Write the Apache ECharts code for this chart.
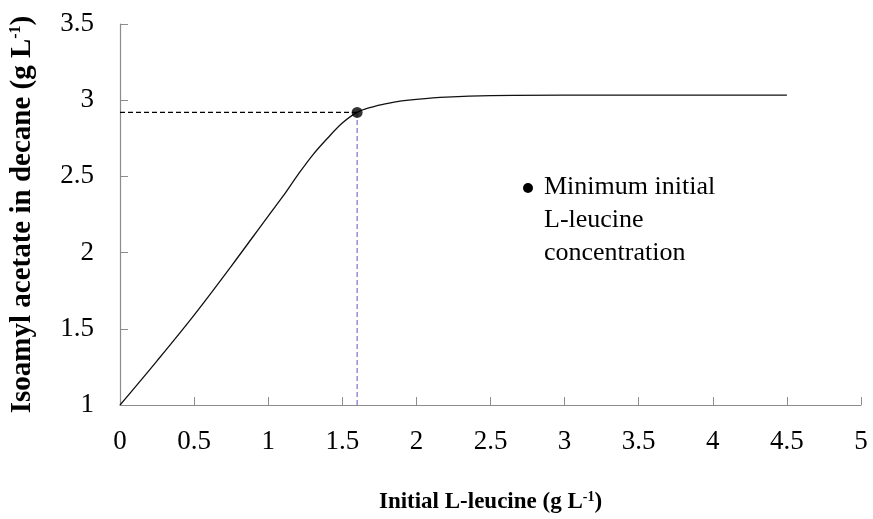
<!DOCTYPE html>
<html>
<head>
<meta charset="utf-8">
<script src="https://cdn.jsdelivr.net/npm/echarts@6/dist/echarts.min.js"></script>
<style>
  html, body { margin: 0; padding: 0; background: #fff; }
  #chart { width: 873px; height: 519px; }
</style>
</head>
<body>
<div id="chart"></div>
<script>
// Initial L-leucine (g/L) and resulting isoamyl acetate in decane (g/L)
const leucine = [0, 0.25, 0.5, 0.75, 1.0, 1.1, 1.2, 1.3, 1.4, 1.5, 1.6, 1.7, 1.8, 1.9, 2.0, 2.2, 2.5, 3.0, 3.5, 4.0, 4.5];
const acetate = [1.0, 1.29, 1.59, 1.91, 2.24, 2.37, 2.51, 2.64, 2.75, 2.85, 2.92, 2.955, 2.978, 2.995, 3.006, 3.02, 3.03, 3.033, 3.033, 3.033, 3.033];

// Minimum initial L-leucine concentration point
const minPoint = [1.6, 2.92];

const xTicks = { min: 0, max: 5, step: 0.5 };
const yTicks = { min: 1, max: 3.5, step: 0.5 };

const serif = '"Liberation Serif", "Times New Roman", serif';
const axisGray = '#8c8c8c';

const curve = leucine.map((x, i) => [x, acetate[i]]);

const chart = echarts.init(document.getElementById('chart'));
chart.setOption({
  animation: false,
  backgroundColor: '#ffffff',
  grid: { left: 119, right: 12, top: 24, bottom: 114, containLabel: false },
  xAxis: {
    type: 'value',
    min: xTicks.min, max: xTicks.max, interval: xTicks.step,
    name: '{a|Initial L-leucine (g L}{s|-1}{a|)}',
    nameLocation: 'middle',
    nameGap: 85,
    nameTextStyle: {
      rich: {
        a: { fontFamily: serif, fontWeight: 'bold', fontSize: 23, color: '#000' },
        s: { fontFamily: serif, fontWeight: 'bold', fontSize: 14, color: '#000', verticalAlign: 'top', padding: [0, 0, 10, 0] }
      }
    },
    axisLine: { lineStyle: { color: axisGray, width: 1.2 } },
    axisTick: { inside: true, length: 8, lineStyle: { color: axisGray } },
    axisLabel: { margin: 23, fontFamily: serif, fontSize: 27, color: '#000' },
    splitLine: { show: false }
  },
  yAxis: {
    type: 'value',
    min: yTicks.min, max: yTicks.max, interval: yTicks.step,
    name: '{a|Isoamyl acetate in decane (g L}{s|-1}{a|)}',
    nameLocation: 'middle',
    nameRotate: 90,
    nameGap: 83,
    nameTextStyle: {
      rich: {
        a: { fontFamily: serif, fontWeight: 'bold', fontSize: 29, color: '#000' },
        s: { fontFamily: serif, fontWeight: 'bold', fontSize: 16, color: '#000', verticalAlign: 'top', padding: [0, 0, 12, 0] }
      }
    },
    axisLine: { show: true, lineStyle: { color: axisGray, width: 1.2 } },
    axisTick: { show: true, inside: true, length: 8, lineStyle: { color: axisGray } },
    axisLabel: { margin: 26, fontFamily: serif, fontSize: 27, color: '#000' },
    splitLine: { show: false }
  },
  series: [
    {
      type: 'line',
      data: curve,
      smooth: 0.35,
      showSymbol: false,
      lineStyle: { color: '#111', width: 1.3 },
      z: 3
    },
    {
      // horizontal guide to the y axis
      type: 'line',
      data: [[xTicks.min, minPoint[1]], minPoint],
      showSymbol: false,
      lineStyle: { color: '#000', width: 1.2, type: [5, 3] },
      z: 2
    },
    {
      // vertical guide down to the x axis
      type: 'line',
      data: [[minPoint[0], yTicks.min], minPoint],
      showSymbol: false,
      lineStyle: { color: '#7a5cc4', width: 1.1, type: [5, 3] },
      z: 2
    },
    {
      type: 'scatter',
      data: [minPoint],
      symbol: 'circle',
      symbolSize: 11,
      itemStyle: { color: '#000' },
      z: 5
    }
  ],
  graphic: [
    {
      type: 'circle',
      shape: { cx: 528, cy: 188, r: 5 },
      style: { fill: '#000' }
    },
    {
      type: 'text',
      left: 544,
      top: 171,
      style: {
        text: 'Minimum initial\nL-leucine\nconcentration',
        fontFamily: serif,
        fontSize: 26,
        lineHeight: 33,
        fill: '#000'
      }
    }
  ]
});
</script>
</body>
</html>
